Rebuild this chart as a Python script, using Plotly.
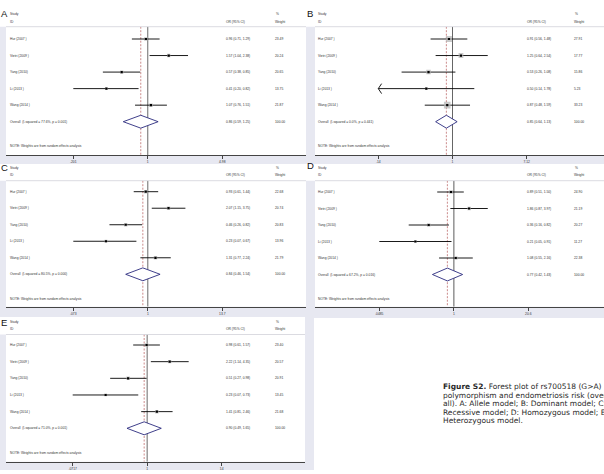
import math
import plotly.graph_objects as go

W, H = 604, 474

# ---------------- data ----------------
studies = ["Hur (2007 )", "Vietri (2009 )", "Yang (2010)", "Li (2013 )", "Wang (2014 )"]

a_or = [0.96, 1.57, 0.57, 0.41, 1.07]
a_lo = [0.71, 1.04, 0.38, 0.20, 0.76]
a_hi = [1.29, 2.38, 0.85, 0.82, 1.51]
a_wt = [23.49, 20.24, 20.65, 13.75, 21.87]
a_overall = [0.86, 0.59, 1.25]
a_het = "I-squared = 77.6%, p = 0.001"
a_axis = [0.201, 4.98]
a_ticks = [".201", "1", "4.98"]

b_or = [0.91, 1.25, 0.53, 0.50, 0.87]
b_lo = [0.56, 0.64, 0.26, 0.136, 0.48]
b_hi = [1.48, 2.54, 1.08, 1.78, 1.59]
b_wt = [27.91, 17.77, 15.86, 5.23, 33.23]
b_overall = [0.85, 0.64, 1.13]
b_het = "I-squared = 0.0%, p = 0.441"
b_axis = [0.1404, 7.12]
b_ticks = [".14", "1", "7.12"]

c_or = [0.93, 2.07, 0.46, 0.23, 1.31]
c_lo = [0.61, 1.15, 0.26, 0.073, 0.77]
c_hi = [1.44, 3.75, 0.82, 0.67, 2.24]
c_wt = [22.68, 20.74, 20.83, 13.96, 21.79]
c_overall = [0.84, 0.46, 1.54]
c_het = "I-squared = 80.5%, p = 0.000"
c_axis = [0.073, 13.7]
c_ticks = [".073", "1", "13.7"]

d_or = [0.89, 1.86, 0.36, 0.21, 1.08]
d_lo = [0.51, 0.87, 0.16, 0.0485, 0.55]
d_hi = [1.50, 3.97, 0.82, 0.91, 2.16]
d_wt = [24.90, 21.19, 20.27, 11.27, 22.38]
d_overall = [0.77, 0.42, 1.43]
d_het = "I-squared = 67.2%, p = 0.016"
d_axis = [0.0485, 20.6]
d_ticks = [".0485", "1", "20.6"]

e_or = [0.98, 2.22, 0.51, 0.23, 1.41]
e_lo = [0.61, 1.14, 0.27, 0.0717, 0.81]
e_hi = [1.57, 4.35, 0.98, 0.73, 2.46]
e_wt = [23.40, 20.57, 20.91, 13.45, 21.68]
e_overall = [0.90, 0.49, 1.65]
e_het = "I-squared = 71.0%, p = 0.001"
e_axis = [0.0717, 14.0]
e_ticks = [".0717", "1", "14"]

panel_letters = ["A", "B", "C", "D", "E"]
note_text = "NOTE: Weights are from random effects analysis"
caption_lines = [
    "<b>Figure S2.</b> Forest plot of rs700518 (G>A)",
    "polymorphism and endometriosis risk (over-",
    "all). A: Allele model; B: Dominant model; C:",
    "Recessive model; D: Homozygous model; E:",
    "Heterozygous model.",
]

# ---------------- geometry (pixels) ----------------
LAV = "#e7e8f1"
FONT = "Liberation Sans"
TXT = "#333333"
FS = 3.3

panels = [
    dict(d=(a_or, a_lo, a_hi, a_wt, a_overall, a_het, a_axis, a_ticks),
         x0=6, x1=306, tmin=73.3, tmax=222.3, sx=9, orx=225, wx=274,
         study_y=14.3, id_y=21.7, line_y=26.7, row0=39.0, dy=16.54,
         note_y=145.7, axis_y=155.3, lx=0, ly=13, box=0.75, oneline=("#444", 0.8)),
    dict(d=(b_or, b_lo, b_hi, b_wt, b_overall, b_het, b_axis, b_ticks),
         x0=315, x1=604, tmin=378.3, tmax=526.7, sx=317, orx=526, wx=573,
         study_y=14.3, id_y=21.7, line_y=26.7, row0=39.0, dy=16.54,
         note_y=145.7, axis_y=155.3, lx=306, ly=13, box=1.15, oneline=("#666", 1.0)),
    dict(d=(c_or, c_lo, c_hi, c_wt, c_overall, c_het, c_axis, c_ticks),
         x0=6, x1=306, tmin=73.3, tmax=222.3, sx=9, orx=225, wx=274,
         study_y=168.3, id_y=175.0, line_y=180.7, row0=191.7, dy=16.52,
         note_y=299.3, axis_y=306.7, lx=0, ly=167, box=0.75, oneline=("#444", 0.8)),
    dict(d=(d_or, d_lo, d_hi, d_wt, d_overall, d_het, d_axis, d_ticks),
         x0=315, x1=604, tmin=379.3, tmax=528.3, sx=317, orx=526, wx=573,
         study_y=167.8, id_y=174.5, line_y=180.7, row0=192.0, dy=16.5,
         note_y=299.3, axis_y=306.7, lx=306, ly=166, box=0.75, oneline=("#999", 1.6)),
    dict(d=(e_or, e_lo, e_hi, e_wt, e_overall, e_het, e_axis, e_ticks),
         x0=6, x1=305, tmin=72.7, tmax=221.7, sx=9, orx=225, wx=274,
         study_y=322.3, id_y=329.0, line_y=334.5, row0=345.0, dy=16.66,
         note_y=452.7, axis_y=461.7, lx=0, ly=322, box=0.75, oneline=("#444", 0.8)),
]

def px(x):
    return x / W

def py(y):
    return 1 - y / H

fig = go.Figure()
shapes = []
annotations = []
layout = {}

# backgrounds
lav_rects = [
    (0, 26.7, 306, 164), (306, 26.7, 604, 164),
    (0, 180.7, 306, 317), (306, 180.7, 604, 318),
    (0, 334.5, 314, 470), (305, 317, 314, 470),
]
white_rects = [
    (6, 26.7, 306, 155.3), (315, 26.7, 604, 155.3),
    (6, 180.7, 306, 306.7), (315, 180.7, 604, 306.7),
    (6, 334.5, 305, 461.7),
]
for (xa, ya, xb, yb) in lav_rects:
    shapes.append(dict(type="rect", xref="paper", yref="paper", x0=px(xa), x1=px(xb),
                       y0=py(yb), y1=py(ya), fillcolor=LAV, line=dict(width=0), layer="below"))
for (xa, ya, xb, yb) in white_rects:
    shapes.append(dict(type="rect", xref="paper", yref="paper", x0=px(xa), x1=px(xb),
                       y0=py(yb), y1=py(ya), fillcolor="white", line=dict(width=0), layer="below"))

def ann(text, x, y, yref="paper", xanchor="left", size=FS, color=TXT, family=FONT, **kw):
    annotations.append(dict(text=text, x=x, y=y, xref="paper", yref=yref,
                            xanchor=xanchor, yanchor="middle", showarrow=False,
                            font=dict(family=family, size=size, color=color), borderpad=0, **kw))

for k, p in enumerate(panels, start=1):
    ors, los, his, wts, ov, het, axis, ticks = p["d"]
    xa = "x" if k == 1 else f"x{k}"
    ya = "y" if k == 1 else f"y{k}"
    amin, amax = axis
    lmin, lmax = math.log10(amin), math.log10(amax)
    ppd = (p["tmax"] - p["tmin"]) / (lmax - lmin)
    rlo = lmin - (p["tmin"] - p["x0"]) / ppd
    rhi = lmax + (p["x1"] - p["tmax"]) / ppd
    top = (p["line_y"] - p["row0"]) / p["dy"]
    bot = (p["axis_y"] - p["row0"]) / p["dy"]

    layout["xaxis" if k == 1 else f"xaxis{k}"] = dict(
        type="log", range=[rlo, rhi], domain=[px(p["x0"]), px(p["x1"])], anchor=ya,
        showgrid=False, zeroline=False, showline=True, linecolor="#444", linewidth=0.8,
        ticks="outside", ticklen=3, tickwidth=0.6, tickcolor="#444",
        tickvals=[amin, 1, amax], ticktext=ticks,
        tickfont=dict(family=FONT, size=FS, color=TXT), fixedrange=True)
    layout["yaxis" if k == 1 else f"yaxis{k}"] = dict(
        range=[bot, top], domain=[py(p["axis_y"]), py(p["line_y"])], anchor=xa,
        visible=False, fixedrange=True)

    # header separator
    shapes.append(dict(type="line", xref="paper", yref="paper", x0=px(p["x0"]), x1=px(p["x1"]),
                       y0=py(p["line_y"]), y1=py(p["line_y"]), line=dict(color="#cfcfd6", width=0.7)))

    # reference lines
    fig.add_trace(go.Scatter(x=[1, 1], y=[top, bot], mode="lines", xaxis=xa, yaxis=ya,
                             line=dict(color=p["oneline"][0], width=p["oneline"][1]),
                             hoverinfo="skip", showlegend=False))
    fig.add_trace(go.Scatter(x=[ov[0], ov[0]], y=[top, bot], mode="lines", xaxis=xa, yaxis=ya,
                             line=dict(color="#a83a3a", width=0.6, dash="2px,1.5px"),
                             hoverinfo="skip", showlegend=False))

    # CI lines
    cx, cy = [], []
    for i in range(len(studies)):
        cx += [max(los[i], amin), min(his[i], amax), None]
        cy += [i, i, None]
    fig.add_trace(go.Scatter(x=cx, y=cy, mode="lines", xaxis=xa, yaxis=ya,
                             line=dict(color="black", width=0.9),
                             hoverinfo="skip", showlegend=False))
    # arrows for clipped lower limits
    for i in range(len(studies)):
        if los[i] < amin * 0.98:
            ax = amin * 10 ** (3.3 / ppd)
            fig.add_trace(go.Scatter(x=[ax, amin, ax], y=[i - 0.3, i, i + 0.3], mode="lines",
                                     xaxis=xa, yaxis=ya, line=dict(color="black", width=0.9),
                                     hoverinfo="skip", showlegend=False))
    # weight boxes + point estimates
    fig.add_trace(go.Scatter(x=ors, y=list(range(len(studies))), mode="markers", xaxis=xa, yaxis=ya,
                             marker=dict(symbol="square", color="#b4b4b4",
                                         size=[p["box"] * math.sqrt(w) for w in wts], line=dict(width=0)),
                             hoverinfo="skip", showlegend=False))
    fig.add_trace(go.Scatter(x=ors, y=list(range(len(studies))), mode="markers", xaxis=xa, yaxis=ya,
                             marker=dict(symbol="square", color="black", size=2.2, line=dict(width=0)),
                             hoverinfo="skip", showlegend=False))
    # overall diamond
    n = len(studies)
    hh = 0.39
    fig.add_trace(go.Scatter(x=[ov[1], ov[0], ov[2], ov[0], ov[1]], y=[n, n - hh, n, n + hh, n],
                             mode="lines", fill="toself", fillcolor="white", xaxis=xa, yaxis=ya,
                             line=dict(color="#2a2a7e", width=0.9),
                             hoverinfo="skip", showlegend=False))

    # text
    ann("Study", px(p["sx"]), py(p["study_y"]))
    ann("ID", px(p["sx"]), py(p["id_y"]))
    ann("OR (95% CI)", px(p["orx"]), py(p["id_y"]))
    ann("%", px(p["wx"] + 1), py(p["study_y"]))
    ann("Weight", px(p["wx"]), py(p["id_y"]))
    for i, s in enumerate(studies):
        ann(s, px(p["sx"]), i, yref=ya)
        ann(f"{ors[i]:.2f} ({los[i]:.2f}, {his[i]:.2f})", px(p["orx"]), i, yref=ya)
        ann(f"{wts[i]:.2f}", px(p["wx"]), i, yref=ya)
    ann(f"Overall  ({het})", px(p["sx"]), n, yref=ya)
    ann(f"{ov[0]:.2f} ({ov[1]:.2f}, {ov[2]:.2f})", px(p["orx"]), n, yref=ya)
    ann("100.00", px(p["wx"]), n, yref=ya)
    ann(note_text, px(p["sx"]), py(p["note_y"]))
    ann(panel_letters[k - 1], px(p["lx"]), py(p["ly"]), size=9.5, color="#111")

# caption
cap_y = [386.7, 395.2, 403.7, 412.2, 420.7]
for line, yy in zip(caption_lines, cap_y):
    ann(line, px(441.7), py(yy), size=7.5, color="#2a2a2a", family="DejaVu Sans")

fig.update_layout(width=W, height=H, margin=dict(l=0, r=0, t=0, b=0),
                  paper_bgcolor="white", plot_bgcolor="rgba(0,0,0,0)",
                  shapes=shapes, annotations=annotations, showlegend=False, **layout)

fig.write_html("out.html", config={"displayModeBar": False})
